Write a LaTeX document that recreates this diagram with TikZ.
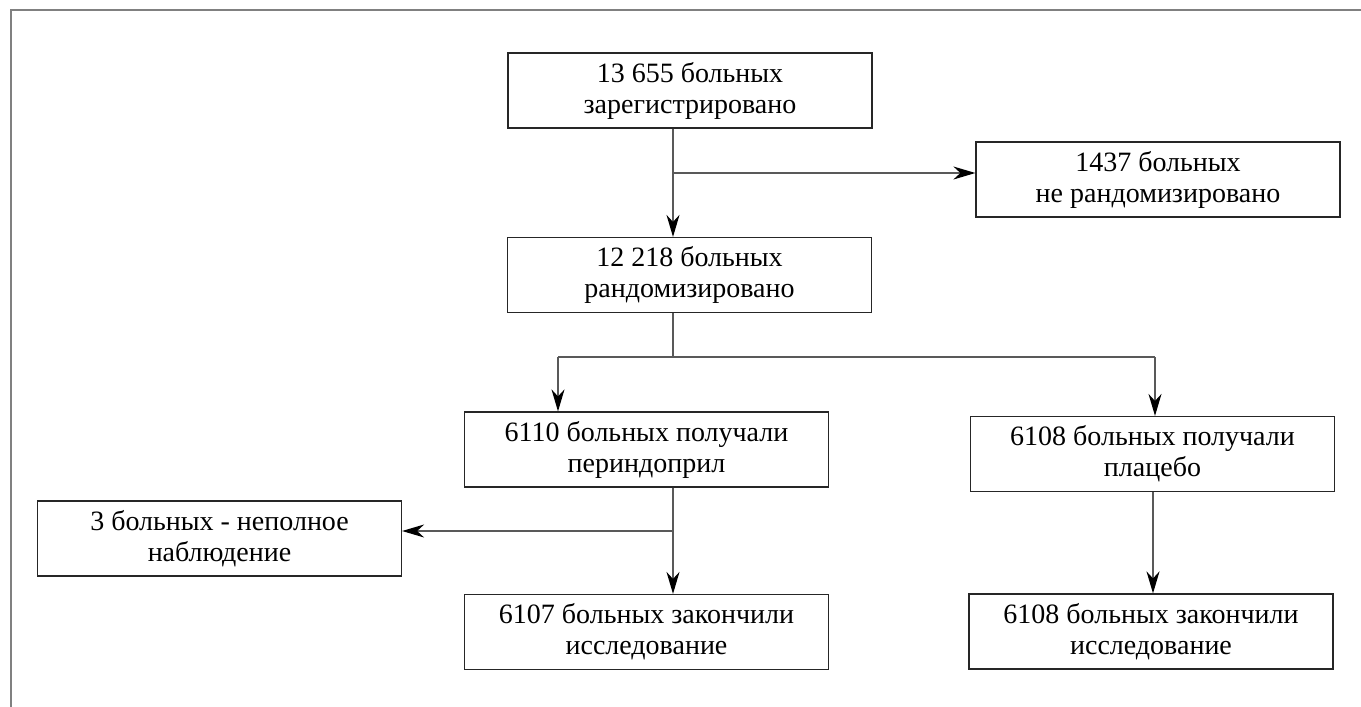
\documentclass[tikz,border=0pt]{standalone}
\usepackage{fontspec}
\setmainfont{Liberation Serif}
\usetikzlibrary{arrows.meta}
\begin{document}
\begin{tikzpicture}[x=1pt,y=-1pt,
  flowbox/.style={draw=black!85, line width=1.2pt, minimum width=364pt, minimum height=75pt,
    inner sep=2pt, align=center, font=\fontsize{28pt}{31pt}\selectfont},
  conn/.style={draw=black!65, line width=1.3pt},
  arr/.style={conn, -{Stealth[length=22pt,width=13pt,inset=7pt,fill=black,color=black]}},
  frameline/.style={draw=black!50, line width=2.2pt}]
\useasboundingbox (0,0) rectangle (1361,707);
% outer frame (top and left only)
\draw[frameline] (1361,10) -- (11,10) -- (11,707);
% boxes
\node[flowbox] (reg) at (690,90.5) {13 655 больных\\зарегистрировано};
\node[flowbox] (notr) at (1158,179.5) {1437 больных\\не рандомизировано};
\node[flowbox] (rand) at (689.5,275) {12 218 больных\\рандомизировано};
\node[flowbox] (per) at (646.5,449.5) {6110 больных получали\\периндоприл};
\node[flowbox] (plc) at (1152.5,454) {6108 больных получали\\плацебо};
\node[flowbox] (inc) at (219.5,538.5) {3 больных - неполное\\наблюдение};
\node[flowbox] (endp) at (646.5,632) {6107 больных закончили\\исследование};
\node[flowbox] (endc) at (1151,631.5) {6108 больных закончили\\исследование};
% junctions
\coordinate (j1) at (673,173);
\coordinate (j2) at (673,357);
\coordinate (jl) at (558,357);
\coordinate (jr) at (1155,357);
\coordinate (j3) at (673,531);
\coordinate (j4) at (1153,540);
% connectors
\draw[conn] (reg.south -| j1) -- (j1);
\draw[arr] (j1) -- (rand.north -| j1);
\draw[arr] (j1) -- (j1 -| notr.west);
\draw[conn] (rand.south -| j2) -- (j2);
\draw[conn] (jl) -- (jr);
\draw[arr] (jl) -- (per.north -| jl);
\draw[arr] (jr) -- (plc.north -| jr);
\draw[conn] (per.south -| j3) -- (j3);
\draw[arr] (j3) -- (endp.north -| j3);
\draw[arr] (j3) -- (j3 -| inc.east);
\draw[arr] (plc.south -| j4) -- (endc.north -| j4);
\end{tikzpicture}
\end{document}
